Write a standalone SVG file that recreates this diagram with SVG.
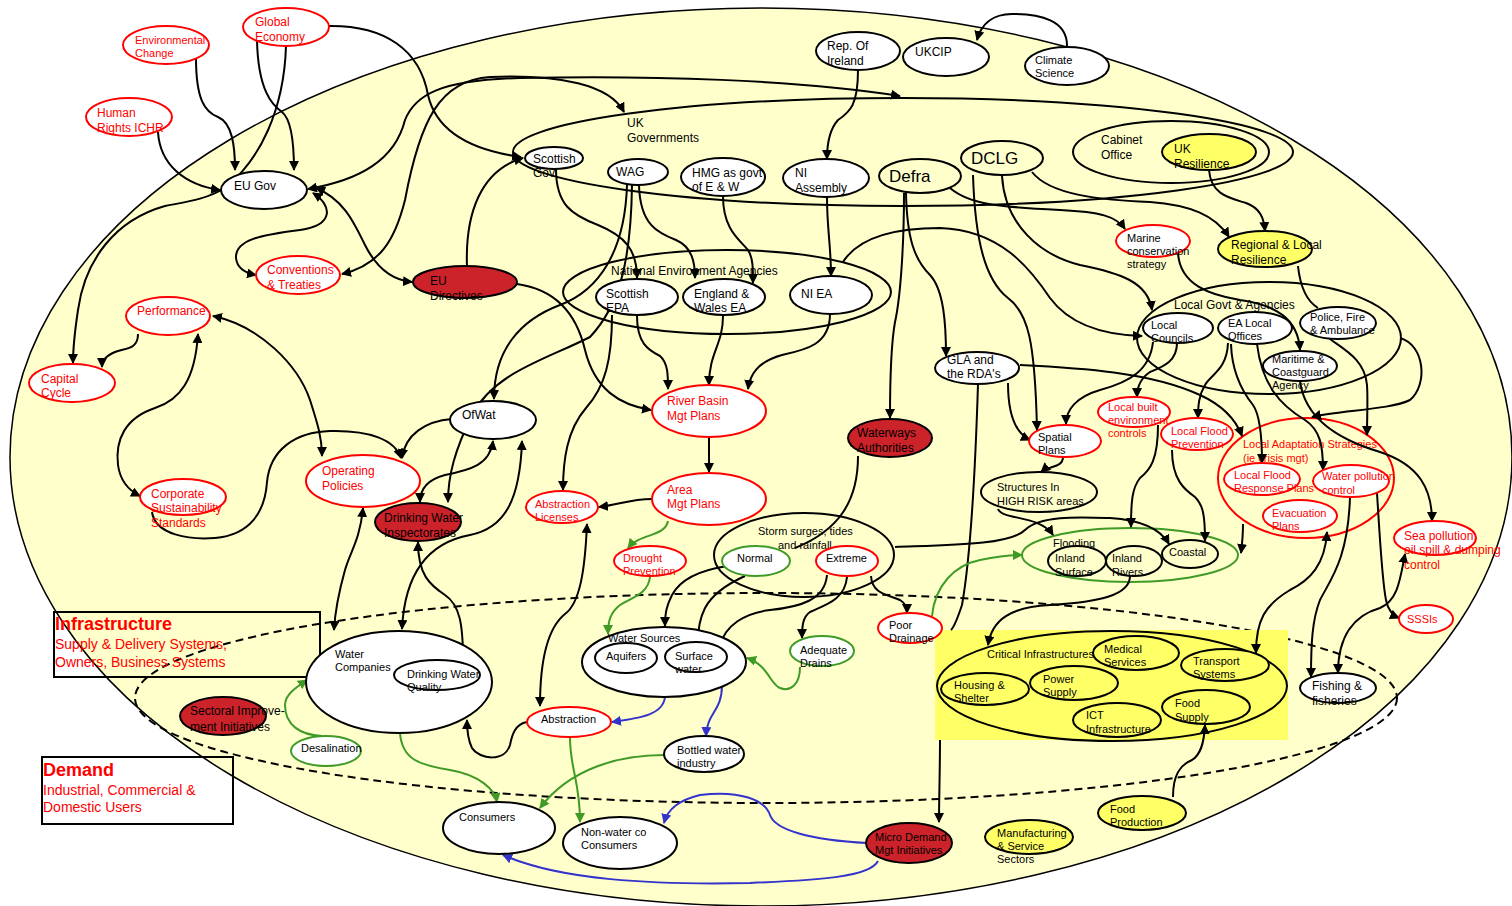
<svg xmlns="http://www.w3.org/2000/svg" width="1512" height="906" viewBox="0 0 1512 906">
<defs>
<style>
text{font-family:"Liberation Sans",Arial,sans-serif;font-size:12px;fill:#000}
.s11{font-size:11px}
.s14{font-size:14px}
.s17{font-size:17px}
.bd{font-size:18px;font-weight:bold}
.tr{fill:#f00}
.n{fill:#fff;stroke:#000;stroke-width:2}
.o{fill:none;stroke:#000;stroke-width:2}
.r{fill:#fff;stroke:#f00;stroke-width:2}
.ro{fill:none;stroke:#f00;stroke-width:2}
.g{fill:#fff;stroke:#3f9a26;stroke-width:2}
.go{fill:none;stroke:#3f9a26;stroke-width:2}
.d{fill:#cc2229;stroke:#000;stroke-width:2}
.y{fill:#ffff66;stroke:#000;stroke-width:2}
.k{fill:none;stroke:#000;stroke-width:2;marker-end:url(#ak)}
.kb{fill:none;stroke:#000;stroke-width:2;marker-start:url(#ak);marker-end:url(#ak)}
.kn{fill:none;stroke:#000;stroke-width:2}
.gr{fill:none;stroke:#3f9a26;stroke-width:2;marker-end:url(#ag)}
.bl{fill:none;stroke:#3333cc;stroke-width:2;marker-end:url(#ab)}
</style>
<marker id="ak" viewBox="0 0 10 10" refX="9" refY="5" markerWidth="10" markerHeight="10" markerUnits="userSpaceOnUse" orient="auto-start-reverse"><path d="M0,0L10,5L0,10z" fill="#000"/></marker>
<marker id="ag" viewBox="0 0 10 10" refX="9" refY="5" markerWidth="10" markerHeight="10" markerUnits="userSpaceOnUse" orient="auto-start-reverse"><path d="M0,0L10,5L0,10z" fill="#3f9a26"/></marker>
<marker id="ab" viewBox="0 0 10 10" refX="9" refY="5" markerWidth="10" markerHeight="10" markerUnits="userSpaceOnUse" orient="auto-start-reverse"><path d="M0,0L10,5L0,10z" fill="#3333cc"/></marker>
</defs>
<rect width="1512" height="906" fill="#fff"/>
<g id="background">
<ellipse cx="761" cy="457" rx="751" ry="449" fill="#ffffcc" stroke="#000" stroke-width="1.5"/>
<ellipse cx="766" cy="698" rx="631" ry="105" fill="none" stroke="#000" stroke-width="2" stroke-dasharray="8,5"/>
</g>
<g id="infrastructure-box"><rect x="54" y="612" width="266" height="65" fill="none" stroke="#000" stroke-width="2"/>
<text class="bd tr" x="55" y="630">Infrastructure</text><text class="s14 tr" x="55" y="649">Supply &amp; Delivery Systems,</text><text class="s14 tr" x="55" y="667">Owners, Business Systems</text></g>
<g id="demand-box"><rect x="42" y="757" width="191" height="67" fill="none" stroke="#000" stroke-width="2"/>
<text class="bd tr" x="43" y="776">Demand</text><text class="s14 tr" x="43" y="795">Industrial, Commercial &amp;</text><text class="s14 tr" x="43" y="812">Domestic Users</text></g>
<g id="uk-governments"><ellipse class="o" cx="903" cy="152" rx="390" ry="54"/><text x="627" y="127">UK</text><text x="627" y="142">Governments</text></g>
<g id="cabinet-office"><ellipse class="o" cx="1171" cy="152" rx="98" ry="31"/><text x="1101" y="144">Cabinet</text><text x="1101" y="159">Office</text></g>
<g id="national-env-agencies"><ellipse class="o" cx="727" cy="292" rx="164" ry="42"/><text x="611" y="275">National Environment Agencies</text></g>
<g id="local-govt-agencies"><ellipse class="o" cx="1269" cy="338" rx="132" ry="56"/><text x="1174" y="309">Local Govt &amp; Agencies</text></g>
<g id="storm-surges"><ellipse class="o" cx="804" cy="555" rx="90" ry="42"/><text class="s11" x="758" y="535">Storm surges, tides</text><text class="s11" x="778" y="549">and rainfall</text></g>
<g id="flooding"><ellipse class="go" cx="1130" cy="555" rx="108" ry="27"/><text class="s11" x="1053" y="547">Flooding</text></g>
<g id="local-adaptation"><ellipse class="ro" cx="1306" cy="478" rx="88" ry="60"/><text class="s11 tr" x="1243" y="448">Local Adaptation Strategies</text><text class="s11 tr" x="1243" y="462">(ie crisis mgt)</text></g>
<g id="critical-infrastructures">
<rect x="935" y="630" width="353" height="110" fill="#ffff66"/>
<ellipse class="o" cx="1112" cy="686" rx="175" ry="55"/>
<text class="s11" x="987" y="658">Critical Infrastructures</text>
<ellipse class="y" cx="1136" cy="653" rx="43" ry="17"/><text class="s11" x="1104" y="653">Medical</text><text class="s11" x="1104" y="666">Services</text>
<ellipse class="y" cx="1225" cy="665" rx="44" ry="16"/><text class="s11" x="1193" y="665">Transport</text><text class="s11" x="1193" y="678">Systems</text>
<ellipse class="y" cx="985" cy="689" rx="44" ry="16"/><text class="s11" x="954" y="689">Housing &amp;</text><text class="s11" x="954" y="702">Shelter</text>
<ellipse class="y" cx="1074" cy="683" rx="44" ry="17"/><text class="s11" x="1043" y="683">Power</text><text class="s11" x="1043" y="696">Supply</text>
<ellipse class="y" cx="1117" cy="720" rx="44" ry="17"/><text class="s11" x="1086" y="719">ICT</text><text class="s11" x="1086" y="733">Infrastructure</text>
<ellipse class="y" cx="1206" cy="707" rx="44" ry="17"/><text class="s11" x="1175" y="707">Food</text><text class="s11" x="1175" y="721">Supply</text>
</g>
<g id="connectors">
<path class="k" d="M196,58 C196,100 205,112 218,117 C232,123 235,145 235,170"/>
<path class="k" d="M257,40 C258,90 272,105 282,112 C292,120 294,145 294,170"/>
<path class="k" d="M286,46 C284,110 260,160 225,188 C205,200 185,202 165,206 C115,220 85,260 78,310 C75,330 73,345 73,363"/>
<path class="k" d="M158,132 C160,165 185,185 220,190"/>
<path class="k" d="M328,26 C385,25 420,50 428,95 C436,130 470,150 521,157"/>
<path class="k" d="M467,267 C465,215 480,170 523,158"/>
<path class="k" d="M517,284 C560,290 578,320 585,350 C595,390 620,405 651,410"/>
<path class="k" d="M556,169 C556,205 572,215 598,225 C625,236 637,250 637,278"/>
<path class="k" d="M639,185 C640,225 658,233 676,240 C692,247 695,262 695,278"/>
<path class="k" d="M627,185 C625,250 600,290 560,305 C520,320 494,350 494,399"/>
<path class="k" d="M632,185 C631,260 620,305 590,337 C545,360 495,372 472,415 C455,450 448,475 448,502"/>
<path class="k" d="M612,315 C612,360 605,387 586,408 C567,430 563,460 563,490"/>
<path class="k" d="M637,316 C637,343 648,350 660,356 C668,363 668,375 668,389"/>
<path class="k" d="M723,316 C723,345 709,352 709,385"/>
<path class="k" d="M830,314 C830,345 805,350 782,355 C757,362 750,375 748,389"/>
<path class="k" d="M827,197 C827,230 831,245 831,276"/>
<path class="k" d="M858,70 C858,105 850,112 838,120 C829,130 827,145 827,159"/>
<path class="k" d="M1067,47 C1068,20 1040,14 1012,14 C992,14 981,25 977,40"/>
<path class="k" d="M709,437 L709,472"/>
<path class="k" d="M652,499 C630,499 618,505 599,507"/>
<path class="k" d="M723,196 C723,230 740,240 748,250 C753,258 753,268 753,283"/>
<path class="kb" d="M308,189 C360,180 395,160 405,120 C415,95 440,80 520,78 C650,75 800,80 900,96"/>
<path class="kb" d="M342,274 C380,265 395,240 405,200 C420,120 440,80 490,77 C560,74 610,85 624,112"/>
<path class="kb" d="M313,193 C332,205 335,225 300,230 C260,235 235,240 236,258 C237,268 245,273 256,275"/>
<path class="kb" d="M316,188 C345,200 355,225 365,245 C375,265 390,280 412,282"/>
<path class="kb" d="M213,316 C260,326 298,365 310,400 C318,425 322,438 322,456"/>
<path class="kb" d="M198,334 C195,380 180,400 155,408 C125,418 115,440 118,465 C120,480 128,490 140,496"/>
<path class="k" d="M138,334 C138,350 125,348 115,352 C106,356 102,360 102,367"/>
<path class="k" d="M452,419 C425,421 405,435 402,458"/>
<path class="k" d="M152,512 C155,535 190,540 215,538 C250,535 265,512 267,482 C270,450 295,432 330,431 C370,430 395,440 401,458"/>
<path class="kb" d="M493,441 C490,465 470,470 445,475 C426,480 420,490 420,502"/>
<path class="kb" d="M522,441 C520,500 505,528 470,535 C432,542 405,568 402,629"/>
<path class="kb" d="M418,542 C418,575 430,585 445,595 C460,605 463,625 463,660"/>
<path class="kb" d="M363,508 C360,540 350,552 345,570 C338,595 335,612 334,630"/>
<path class="kb" d="M587,524 C585,570 580,603 565,614 C545,630 540,670 540,706"/>
<path class="k" d="M527,722 C515,724 512,735 510,745 C505,762 480,760 472,748 C468,740 467,732 467,720"/>
<path class="k" d="M978,384 C975,480 970,560 962,605 C957,620 953,628 951,630 M940,740 C940,770 939,800 939,822"/>
<path class="k" d="M904,193 C904,250 900,300 895,322 C890,350 890,390 890,418"/>
<path class="k" d="M906,193 C907,240 915,260 930,275 C944,290 946,325 946,356"/>
<path class="k" d="M973,175 C975,240 985,280 1008,298 C1028,313 1035,340 1037,430"/>
<path class="k" d="M843,262 C860,235 900,228 940,228 C1000,230 1030,268 1050,298 C1070,325 1105,335 1142,336"/>
<path class="k" d="M1002,176 C1005,225 1040,255 1080,265 C1120,273 1148,282 1152,310"/>
<path class="k" d="M1032,172 C1050,195 1100,200 1150,202 C1190,205 1215,215 1229,237"/>
<path class="k" d="M950,188 C970,205 1000,207 1060,210 C1100,212 1116,216 1125,229"/>
<path class="k" d="M1209,170 C1211,195 1230,198 1246,203 C1260,208 1264,218 1265,231"/>
<path class="k" d="M1178,253 C1180,285 1210,295 1240,300 C1275,305 1298,318 1300,350"/>
<path class="k" d="M1008,383 C1008,410 1013,432 1030,440"/>
<path class="k" d="M1020,365 C1080,368 1150,372 1200,395 C1224,406 1236,420 1242,436"/>
<path class="k" d="M1153,342 C1150,370 1130,382 1100,390 C1076,397 1066,410 1066,424"/>
<path class="k" d="M1177,343 C1177,362 1162,367 1150,372 C1141,378 1137,386 1137,397"/>
<path class="k" d="M1158,425 C1158,460 1150,470 1140,478 C1132,488 1131,502 1131,527"/>
<path class="k" d="M1063,457 C1063,468 1048,466 1041,472"/>
<path class="k" d="M998,509 C1002,520 1040,515 1053,535"/>
<path class="k" d="M895,547 C950,545 1010,545 1025,530 C1040,515 1080,517 1110,518 C1140,520 1160,528 1169,544"/>
<path class="k" d="M1172,450 C1172,480 1185,490 1195,497 C1203,505 1205,515 1205,541"/>
<path class="k" d="M1243,524 C1243,535 1242,545 1241,553"/>
<path class="k" d="M1228,343 C1227,370 1210,375 1205,385 C1199,395 1198,405 1198,418"/>
<path class="k" d="M1231,344 C1232,375 1245,395 1253,405 C1260,415 1262,440 1262,463"/>
<path class="k" d="M1257,344 C1262,385 1280,405 1305,420 C1320,430 1323,445 1323,470"/>
<path class="k" d="M1300,381 C1305,420 1340,440 1380,452 C1420,465 1432,490 1432,521"/>
<path class="k" d="M1330,339 C1345,350 1365,360 1367,385 C1368,400 1367,415 1367,435"/>
<path class="k" d="M1400,338 C1425,345 1428,385 1410,400 C1390,410 1340,410 1312,417"/>
<path class="k" d="M1350,497 C1348,560 1330,580 1320,600 C1312,620 1311,645 1311,677"/>
<path class="k" d="M1377,493 C1380,540 1382,580 1386,600 C1388,610 1392,615 1399,618"/>
<path class="kb" d="M1405,554 C1400,580 1398,600 1380,608 C1355,615 1338,635 1338,673"/>
<path class="kb" d="M1327,532 C1325,565 1310,580 1290,590 C1265,605 1256,620 1256,653"/>
<path class="k" d="M1173,797 C1173,775 1180,765 1192,760 C1200,755 1204,745 1205,725"/>
<path class="k" d="M1130,576 C1130,595 1100,602 1050,605 C1010,607 992,620 988,645"/>
<path class="k" d="M871,576 C872,595 890,595 900,600 C905,603 907,607 907,613"/>
<path class="k" d="M847,577 C845,600 825,605 810,612 C803,617 802,625 802,638"/>
<path class="k" d="M827,575 C825,600 800,607 770,610 C745,613 725,625 720,646"/>
<path class="k" d="M728,566 C700,570 680,580 672,595 C667,605 665,612 665,626"/>
<path class="k" d="M745,576 C725,585 712,595 705,608 C700,618 698,630 698,641"/>
<path class="kn" d="M858,456 C858,500 840,530 795,548"/>
<path class="kn" d="M1298,266 C1300,285 1305,300 1318,308"/>
<path class="gr" d="M668,521 C665,537 640,533 628,548"/>
<path class="gr" d="M650,577 C648,595 630,598 620,605 C611,612 608,620 608,634"/>
<path class="gr" d="M400,733 C402,760 420,765 450,770 C480,775 495,790 497,802"/>
<path class="gr" d="M322,736 C300,735 285,725 285,705 C285,695 295,688 307,680"/>
<path class="gr" d="M664,755 C620,755 570,768 540,808"/>
<path class="gr" d="M570,737 C570,770 580,780 580,822"/>
<path class="gr" d="M932,616 C935,585 955,565 980,560 C995,557 1010,555 1022,555"/>
<path class="gr" d="M800,667 C800,685 790,692 780,688 C770,684 768,665 747,658"/>
<path class="bl" d="M665,697 C663,715 640,718 612,722"/>
<path class="bl" d="M722,685 C722,712 707,712 706,736"/>
<path class="bl" d="M867,843 C810,840 775,830 770,815 C765,800 740,790 700,795 C680,800 668,808 664,823"/>
<path class="bl" d="M878,861 C870,877 820,880 750,883 C650,885 560,880 503,855"/>
</g>
<g id="environmental-change"><ellipse class="r" cx="166" cy="45" rx="43" ry="19"/><text class="s11 tr" x="135" y="44">Environmental</text><text class="s11 tr" x="135" y="57">Change</text></g>
<g id="global-economy"><ellipse class="r" cx="286" cy="27" rx="43" ry="19"/><text class="tr" x="255" y="26">Global</text><text class="tr" x="255" y="41">Economy</text></g>
<g id="human-rights"><ellipse class="r" cx="129" cy="117" rx="43" ry="19"/><text class="tr" x="97" y="117">Human</text><text class="tr" x="97" y="132">Rights ICHR</text></g>
<g id="eu-gov"><ellipse class="n" cx="264" cy="190" rx="43" ry="19"/><text x="234" y="190">EU Gov</text></g>
<g id="conventions"><ellipse class="r" cx="298" cy="275" rx="42" ry="19"/><text class="tr" x="267" y="274">Conventions</text><text class="tr" x="267" y="289">&amp; Treaties</text></g>
<g id="performance"><ellipse class="r" cx="168" cy="316" rx="42" ry="19"/><text class="tr" x="137" y="315">Performance</text></g>
<g id="capital-cycle"><ellipse class="r" cx="72" cy="383" rx="43" ry="19"/><text class="tr" x="41" y="383">Capital</text><text class="tr" x="41" y="397">Cycle</text></g>
<g id="corporate-sustainability"><ellipse class="r" cx="183" cy="497" rx="43" ry="18"/><text class="tr" x="151" y="498">Corporate</text><text class="tr" x="151" y="512">Sustainability</text><text class="tr" x="151" y="527">Standards</text></g>
<g id="operating-policies"><ellipse class="r" cx="363" cy="481" rx="57" ry="26"/><text class="tr" x="322" y="475">Operating</text><text class="tr" x="322" y="490">Policies</text></g>
<g id="dwi"><ellipse class="d" cx="418" cy="522" rx="43" ry="19"/><text x="384" y="522">Drinking Water</text><text x="384" y="537">Inspectorates</text></g>
<g id="ofwat"><ellipse class="n" cx="493" cy="420" rx="43" ry="19"/><text x="462" y="419">OfWat</text></g>
<g id="eu-directives"><ellipse class="d" cx="465" cy="282" rx="52" ry="16"/><text x="430" y="285">EU</text><text x="430" y="300">Directives</text></g>
<g id="scottish-gov"><ellipse class="n" cx="554" cy="158" rx="29" ry="11"/><text x="533" y="163">Scottish</text><text x="533" y="177">Gov</text></g>
<g id="wag"><ellipse class="n" cx="638" cy="172" rx="30" ry="13"/><text x="616" y="176">WAG</text></g>
<g id="hmg"><ellipse class="n" cx="723" cy="177" rx="42" ry="19"/><text x="692" y="177">HMG as govt</text><text x="692" y="191">of E &amp; W</text></g>
<g id="rep-ireland"><ellipse class="n" cx="858" cy="51" rx="42" ry="19"/><text x="827" y="50">Rep. Of</text><text x="827" y="65">Ireland</text></g>
<g id="ukcip"><ellipse class="n" cx="946" cy="57" rx="43" ry="19"/><text x="915" y="56">UKCIP</text></g>
<g id="climate-science"><ellipse class="n" cx="1067" cy="66" rx="42" ry="19"/><text class="s11" x="1035" y="64">Climate</text><text class="s11" x="1035" y="77">Science</text></g>
<g id="ni-assembly"><ellipse class="n" cx="826" cy="178" rx="43" ry="19"/><text x="795" y="177">NI</text><text x="795" y="192">Assembly</text></g>
<g id="defra"><ellipse class="o" cx="920" cy="176" rx="41" ry="17"/><text class="s17" x="889" y="182">Defra</text></g>
<g id="dclg"><ellipse class="o" cx="1002" cy="158" rx="41" ry="17"/><text class="s17" x="971" y="164">DCLG</text></g>
<g id="uk-resilience"><ellipse class="y" cx="1209" cy="152" rx="47" ry="18"/><text x="1174" y="153">UK</text><text x="1174" y="168">Resilience</text></g>
<g id="marine-conservation"><ellipse class="r" cx="1153" cy="241" rx="37" ry="16"/><text class="s11" x="1127" y="242">Marine</text><text class="s11" x="1127" y="255">conservation</text><text class="s11" x="1127" y="268">strategy</text></g>
<g id="regional-local-resilience"><ellipse class="y" cx="1265" cy="249" rx="47" ry="18"/><text x="1231" y="249">Regional &amp; Local</text><text x="1231" y="264">Resilience</text></g>
<g id="scottish-epa"><ellipse class="n" cx="637" cy="297" rx="41" ry="18"/><text x="606" y="298">Scottish</text><text x="606" y="312">EPA</text></g>
<g id="england-wales-ea"><ellipse class="n" cx="724" cy="297" rx="41" ry="18"/><text x="694" y="298">England &amp;</text><text x="694" y="312">Wales EA</text></g>
<g id="ni-ea"><ellipse class="n" cx="831" cy="295" rx="41" ry="19"/><text x="801" y="298">NI EA</text></g>
<g id="river-basin"><ellipse class="r" cx="709" cy="411" rx="57" ry="26"/><text class="tr" x="667" y="405">River Basin</text><text class="tr" x="667" y="420">Mgt Plans</text></g>
<g id="area-mgt"><ellipse class="r" cx="709" cy="499" rx="57" ry="26"/><text class="tr" x="667" y="494">Area</text><text class="tr" x="667" y="508">Mgt Plans</text></g>
<g id="abstraction-licenses"><ellipse class="r" cx="562" cy="507" rx="36" ry="16"/><text class="s11 tr" x="535" y="508">Abstraction</text><text class="s11 tr" x="535" y="521">Licenses</text></g>
<g id="drought-prevention"><ellipse class="r" cx="650" cy="561" rx="36" ry="15"/><text class="s11 tr" x="623" y="562">Drought</text><text class="s11 tr" x="623" y="575">Prevention</text></g>
<g id="normal"><ellipse class="g" cx="756" cy="561" rx="34" ry="15"/><text class="s11" x="737" y="562">Normal</text></g>
<g id="extreme"><ellipse class="r" cx="847" cy="561" rx="31" ry="15"/><text class="s11" x="826" y="562">Extreme</text></g>
<g id="waterways"><ellipse class="d" cx="890" cy="438" rx="42" ry="19"/><text x="857" y="437">Waterways</text><text x="857" y="452">Authorities</text></g>
<g id="gla-rda"><ellipse class="n" cx="977" cy="368" rx="42" ry="16"/><text x="947" y="364">GLA and</text><text x="947" y="378">the RDA's</text></g>
<g id="spatial-plans"><ellipse class="r" cx="1065" cy="441" rx="36" ry="16"/><text class="s11" x="1038" y="441">Spatial</text><text class="s11" x="1038" y="454">Plans</text></g>
<g id="structures-high-risk"><ellipse class="o" cx="1039" cy="492" rx="58" ry="20"/><text class="s11" x="997" y="491">Structures In</text><text class="s11" x="997" y="505">HIGH RISK areas</text></g>
<g id="inland-surface"><ellipse class="o" cx="1077" cy="561" rx="29" ry="15"/><text class="s11" x="1055" y="562">Inland</text><text class="s11" x="1055" y="576">Surface</text></g>
<g id="inland-rivers"><ellipse class="o" cx="1134" cy="561" rx="28" ry="15"/><text class="s11" x="1112" y="562">Inland</text><text class="s11" x="1112" y="576">Rivers</text></g>
<g id="coastal"><ellipse class="o" cx="1190" cy="554" rx="28" ry="14"/><text class="s11" x="1169" y="556">Coastal</text></g>
<g id="local-councils"><ellipse class="n" cx="1178" cy="328" rx="35" ry="15"/><text class="s11" x="1151" y="329">Local</text><text class="s11" x="1151" y="342">Councils</text></g>
<g id="ea-local-offices"><ellipse class="n" cx="1255" cy="328" rx="37" ry="16"/><text class="s11" x="1228" y="327">EA Local</text><text class="s11" x="1228" y="340">Offices</text></g>
<g id="police-fire"><ellipse class="n" cx="1338" cy="323" rx="38" ry="16"/><text class="s11" x="1310" y="321">Police, Fire</text><text class="s11" x="1310" y="334">&amp; Ambulance</text></g>
<g id="maritime-coastguard"><ellipse class="n" cx="1300" cy="366" rx="37" ry="15"/><text class="s11" x="1272" y="363">Maritime &amp;</text><text class="s11" x="1272" y="376">Coastguard</text><text class="s11" x="1272" y="389">Agency</text></g>
<g id="local-built-env"><ellipse class="r" cx="1134" cy="412" rx="36" ry="15"/><text class="s11 tr" x="1108" y="411">Local built</text><text class="s11 tr" x="1108" y="424">environment</text><text class="s11 tr" x="1108" y="437">controls</text></g>
<g id="local-flood-prevention"><ellipse class="r" cx="1197" cy="434" rx="36" ry="16"/><text class="s11 tr" x="1171" y="435">Local Flood</text><text class="s11 tr" x="1171" y="448">Prevention</text></g>
<g id="local-flood-response"><ellipse class="r" cx="1262" cy="479" rx="38" ry="16"/><text class="s11 tr" x="1234" y="479">Local Flood</text><text class="s11 tr" x="1234" y="492">Response Plans</text></g>
<g id="water-pollution"><ellipse class="r" cx="1351" cy="481" rx="38" ry="16"/><text class="s11 tr" x="1322" y="480">Water pollution</text><text class="s11 tr" x="1322" y="494">control</text></g>
<g id="evacuation-plans"><ellipse class="r" cx="1300" cy="516" rx="37" ry="16"/><text class="s11 tr" x="1272" y="517">Evacuation</text><text class="s11 tr" x="1272" y="530">Plans</text></g>
<g id="sea-pollution"><ellipse class="r" cx="1435" cy="538" rx="41" ry="17"/><text class="tr" x="1404" y="540">Sea pollution,</text><text class="tr" x="1404" y="554">oil spill &amp; dumping</text><text class="tr" x="1404" y="569">control</text></g>
<g id="sssis"><ellipse class="r" cx="1426" cy="619" rx="27" ry="14"/><text class="s11 tr" x="1407" y="623">SSSIs</text></g>
<g id="fishing"><ellipse class="n" cx="1338" cy="688" rx="38" ry="15"/><text x="1312" y="690">Fishing &amp;</text><text x="1312" y="705">fisheries</text></g>
<g id="poor-drainage"><ellipse class="r" cx="910" cy="628" rx="32" ry="15"/><text class="s11" x="889" y="629">Poor</text><text class="s11" x="889" y="642">Drainage</text></g>
<g id="adequate-drains"><ellipse class="g" cx="822" cy="651" rx="32" ry="15"/><text class="s11" x="800" y="654">Adequate</text><text class="s11" x="800" y="667">Drains</text></g>
<g id="water-sources"><ellipse class="n" cx="664" cy="662" rx="82" ry="35"/><text class="s11" x="608" y="642">Water Sources</text>
<ellipse class="n" cx="626" cy="658" rx="31" ry="15"/><text class="s11" x="606" y="660">Aquifers</text>
<ellipse class="n" cx="696" cy="657" rx="31" ry="15"/><text class="s11" x="675" y="660">Surface</text><text class="s11" x="675" y="673">water</text></g>
<g id="water-companies"><ellipse class="n" cx="399" cy="682" rx="93" ry="51"/><text class="s11" x="335" y="658">Water</text><text class="s11" x="335" y="671">Companies</text>
<ellipse class="n" cx="437" cy="675" rx="43" ry="15"/><text class="s11" x="407" y="678">Drinking Water</text><text class="s11" x="407" y="691">Quality</text></g>
<g id="sectoral-improvement"><ellipse class="d" cx="223" cy="716" rx="43" ry="19"/><text x="190" y="715">Sectoral Improve-</text><text x="190" y="731">ment Initiatives</text></g>
<g id="desalination"><ellipse class="g" cx="326" cy="751" rx="35" ry="15"/><text class="s11" x="301" y="752">Desalination</text></g>
<g id="abstraction"><ellipse class="r" cx="569" cy="722" rx="42" ry="15"/><text class="s11" x="541" y="723">Abstraction</text></g>
<g id="bottled-water"><ellipse class="n" cx="704" cy="754" rx="40" ry="18"/><text class="s11" x="677" y="754">Bottled water</text><text class="s11" x="677" y="767">industry</text></g>
<g id="consumers"><ellipse class="n" cx="499" cy="828" rx="56" ry="26"/><text class="s11" x="459" y="821">Consumers</text></g>
<g id="non-water-consumers"><ellipse class="n" cx="620" cy="843" rx="57" ry="26"/><text class="s11" x="581" y="836">Non-water co</text><text class="s11" x="581" y="849">Consumers</text></g>
<g id="micro-demand"><ellipse class="d" cx="909" cy="843" rx="43" ry="20"/><text class="s11" x="875" y="841">Micro Demand</text><text class="s11" x="875" y="854">Mgt Initiatives</text></g>
<g id="manufacturing"><ellipse class="y" cx="1029" cy="837" rx="44" ry="17"/><text class="s11" x="997" y="837">Manufacturing</text><text class="s11" x="997" y="850">&amp; Service</text><text class="s11" x="997" y="863">Sectors</text></g>
<g id="food-production"><ellipse class="y" cx="1142" cy="813" rx="44" ry="17"/><text class="s11" x="1110" y="813">Food</text><text class="s11" x="1110" y="826">Production</text></g>
</svg>
